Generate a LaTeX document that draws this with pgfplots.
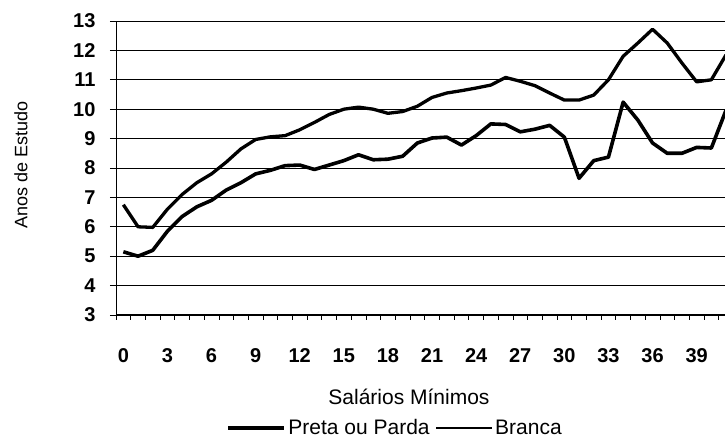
\documentclass[border=0pt]{standalone}
\usepackage{fontspec}
\setmainfont{Liberation Sans}
\usepackage{pgfplots}
\usepackage{pgfplotstable}
\pgfplotsset{compat=1.18}

% anos de estudo por faixa de salario minimo
\pgfplotstableread{
sm preta branca
0  5.15 6.75
1  5.00 6.00
2  5.20 5.98
3  5.85 6.60
4  6.35 7.10
5  6.68 7.50
6  6.90 7.80
7  7.25 8.20
8  7.50 8.65
9  7.80 8.97
10 7.92 9.06
11 8.08 9.10
12 8.10 9.30
13 7.95 9.55
14 8.10 9.82
15 8.25 10.00
16 8.45 10.07
17 8.28 10.00
18 8.30 9.86
19 8.40 9.92
20 8.85 10.10
21 9.02 10.40
22 9.05 10.55
23 8.78 10.63
24 9.10 10.72
25 9.50 10.82
26 9.48 11.08
27 9.23 10.95
28 9.32 10.80
29 9.45 10.55
30 9.05 10.31
31 7.65 10.31
32 8.25 10.48
33 8.37 11.00
34 10.24 11.80
35 9.63 12.25
36 8.85 12.72
37 8.50 12.25
38 8.50 11.57
39 8.70 10.93
40 8.68 11.00
41 9.97 11.85
}\dados

\newcommand{\tk}{\fontsize{20}{24}\selectfont\bfseries}

\begin{document}
\begin{tikzpicture}
\useasboundingbox (0,0) rectangle (725pt,441pt);
\clip (0,0) rectangle (725pt,441pt);
\begin{axis}[
    at={(116pt,126pt)}, anchor=south west,
    scale only axis,
    width=617.4pt, height=294pt,
    xmin=-0.5, xmax=41.5,
    ymin=3, ymax=13,
    axis x line*=bottom, axis y line*=left,
    axis line style={-, line width=1pt},
    xtick={0,3,...,39},
    minor xtick={-0.5,0.5,...,41.5},
    ytick={3,4,...,13},
    major x tick style={draw=none},
    tick align=outside,
    major tick length=6pt, minor tick length=5pt,
    tick style={black, line width=0.8pt},
    ymajorgrids,
    grid style={black, line width=0.8pt},
    /pgf/number format/assume math mode=true,
    xticklabel={\tk\pgfmathprintnumber{\tick}},
    yticklabel={\tk\pgfmathprintnumber{\tick}},
    xticklabel style={anchor=center, yshift=-34.5pt},
    yticklabel style={anchor=east, xshift=-11pt},
    xlabel={\fontsize{21}{24}\selectfont Salários Mínimos},
    xlabel style={at={(axis description cs:0.4745,-0.279)}, anchor=center},
    ylabel={\fontsize{18}{22}\selectfont Anos de Estudo},
    ylabel style={at={(axis description cs:-0.154,0.51)}, anchor=center},
    legend columns=2,
    legend style={at={(axis description cs:0.452,-0.384)}, anchor=center, draw=none, fill=none,
        font=\fontsize{21}{24}\selectfont, inner sep=0pt,
        nodes={inner sep=2pt},
        /tikz/every even column/.append style={column sep=4pt}},
    legend image code/.code={\draw[#1] (0pt,0pt) -- (56pt,0pt);},
]
\addplot[black, line width=3.6pt, line join=round, legend image post style={line width=4pt}]
    table[x=sm, y=preta] {\dados};
\addlegendentry{Preta ou Parda}
\addplot[black, line width=3.3pt, line join=round, legend image post style={line width=1.5pt}]
    table[x=sm, y=branca] {\dados};
\addlegendentry{Branca}
\end{axis}
\end{tikzpicture}
\end{document}
